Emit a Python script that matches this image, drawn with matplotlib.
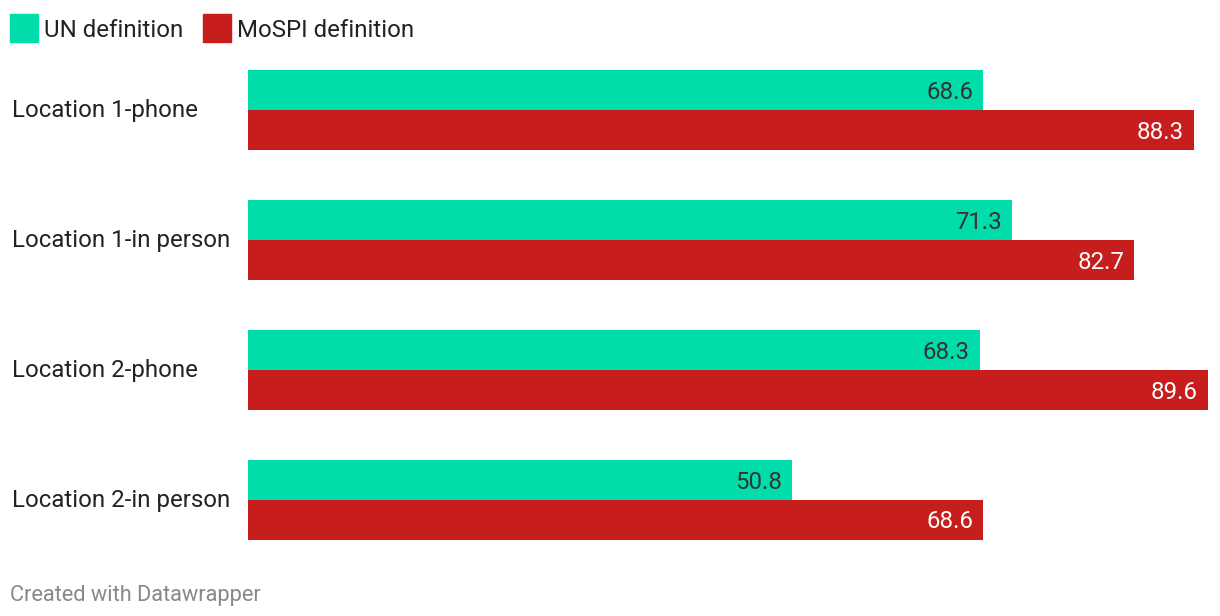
import numpy as np
import matplotlib
matplotlib.use("Agg")
import matplotlib.pyplot as plt
from matplotlib.patches import Rectangle

plt.rcParams['font.family'] = ['Roboto', 'DejaVu Sans']

# data
categories = ["Location 1-phone", "Location 1-in person",
              "Location 2-phone", "Location 2-in person"]
un_vals = [68.6, 71.3, 68.3, 50.8]
mospi_vals = [88.3, 82.7, 89.6, 68.6]
series_names = ["UN definition", "MoSPI definition"]

green = "#00DCAA"
red = "#C71E1D"
dark = "#333333"
fs = 17.3

W, H = 1220, 616
fig = plt.figure(figsize=(W / 100, H / 100), dpi=100)

# axes placed in pixel terms
left, right = 248, 1208
top, bottom = 45, 565
ax = fig.add_axes([left / W, 1 - bottom / H, (right - left) / W, (bottom - top) / H])

y = np.arange(len(categories))
h = 40 / 130
ax.barh(y - h / 2, un_vals, height=h, color=green)
ax.barh(y + h / 2, mospi_vals, height=h, color=red)

ax.set_xlim(0, max(mospi_vals + un_vals))
ax.set_ylim(len(categories) - 0.5, -0.5)
ax.axis("off")

for i, v in enumerate(un_vals):
    ax.annotate(f"{v:.1f}", (v, i - h / 2), xytext=(-10, -2), textcoords="offset pixels",
                ha="right", va="center", fontsize=fs, color=dark)
for i, v in enumerate(mospi_vals):
    ax.annotate(f"{v:.1f}", (v, i + h / 2), xytext=(-10, -2), textcoords="offset pixels",
                ha="right", va="center", fontsize=fs, color="white")

# category labels on the left
for i, c in enumerate(categories):
    ax.annotate(c, (0, i), xycoords=("figure fraction", "data"),
                xytext=(12, 0), textcoords="offset pixels",
                ha="left", va="center", fontsize=fs, color="#222222")

# legend
for x0, col, name in [(10, green, series_names[0]), (203, red, series_names[1])]:
    fig.add_artist(Rectangle((x0 / W, 1 - 42 / H), 28 / W, 28 / H,
                             transform=fig.transFigure, color=col))
    fig.text((x0 + 34) / W, 1 - 30.5 / H, name, ha="left", va="center",
             fontsize=fs, color="#222222")

fig.text(10 / W, 1 - 595 / H, "Created with Datawrapper", ha="left", va="center",
         fontsize=15.7, color="#888888")

fig.savefig("out.png", dpi=100, facecolor="white")
